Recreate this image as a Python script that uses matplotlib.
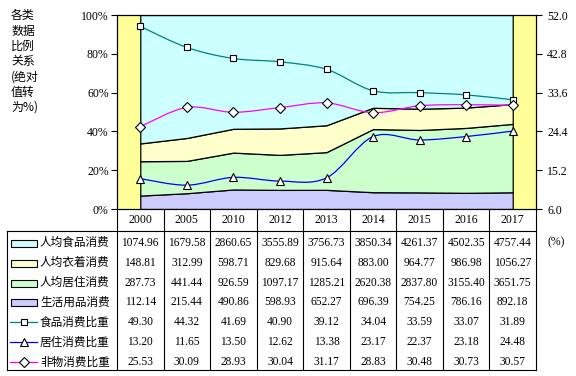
import matplotlib

matplotlib.use("Agg")
import matplotlib.pyplot as plt
import matplotlib.transforms as mtransforms
import numpy as np
from matplotlib.lines import Line2D
from matplotlib.patches import PathPatch, Rectangle
from matplotlib.path import Path

years = ["2000", "2005", "2010", "2012", "2013", "2014", "2015", "2016", "2017"]
food = [1074.96, 1679.58, 2860.65, 3555.89, 3756.73, 3850.34, 4261.37, 4502.35, 4757.44]
clothing = [148.81, 312.99, 598.71, 829.68, 915.64, 883.00, 964.77, 986.98, 1056.27]
housing = [287.73, 441.44, 926.59, 1097.17, 1285.21, 2620.38, 2837.80, 3155.40, 3651.75]
daily = [112.14, 215.44, 490.86, 598.93, 652.27, 696.39, 754.25, 786.16, 892.18]
food_ratio = [49.30, 44.32, 41.69, 40.90, 39.12, 34.04, 33.59, 33.07, 31.89]
housing_ratio = [13.20, 11.65, 13.50, 12.62, 13.38, 23.17, 22.37, 23.18, 24.48]
nonmat_ratio = [25.53, 30.09, 28.93, 30.04, 31.17, 28.83, 30.48, 30.73, 30.57]

area_names = ["人均食品消费", "人均衣着消费", "人均居住消费", "生活用品消费"]
line_names = ["食品消费比重", "居住消费比重", "非物消费比重"]
area_colors = ["#CCFFFF", "#FFFFCC", "#CCFFCC", "#CCCCFF"]
line_colors = ["#008080", "#0000FF", "#FF00FF"]
line_markers = ["s", "^", "D"]
marker_sizes = [4.5, 5.5, 5.5]

SERIF = ["Liberation Serif", "DejaVu Serif"]
CJK = ["Noto Sans CJK SC", "DejaVu Sans"]

W, H = 576, 376
fig = plt.figure(figsize=(W / 100, H / 100), dpi=100)


def fx(x):
    return x / W


def fy(y):
    return 1 - y / H


def smooth_path(xs, ys):
    pts = np.column_stack([xs, ys]).astype(float)
    n = len(pts)
    verts = [pts[0]]
    codes = [Path.MOVETO]
    for i in range(n - 1):
        p0 = pts[max(i - 1, 0)]
        p1 = pts[i]
        p2 = pts[i + 1]
        p3 = pts[min(i + 2, n - 1)]
        verts += [p1 + (p2 - p0) / 6, p2 - (p3 - p1) / 6, p2]
        codes += [Path.CURVE4] * 3
    return Path(verts, codes)


L, R, T, B = 117, 536, 15, 209
ax = fig.add_axes([fx(L), fy(B), (R - L) / W, (B - T) / H])
ax.set_facecolor("#FFFF99")
x = np.arange(len(years))

totals = np.array(food) + np.array(clothing) + np.array(housing) + np.array(daily)
stack = [np.array(s) / totals * 100 for s in (daily, housing, clothing, food)]
ax.stackplot(x, *stack, colors=area_colors[::-1], edgecolor="black", linewidth=0.9)
ax.set_xlim(-0.5, len(years) - 0.5)
ax.set_ylim(0, 100)
ax.set_xticks([])
ax.set_yticks(range(0, 101, 20))
ax.set_yticklabels([f"{v}%" for v in range(0, 101, 20)], fontfamily=SERIF, fontsize=8.5)
ax.tick_params(axis="y", direction="out", length=4, width=0.8, pad=2)
for s in ax.spines.values():
    s.set_linewidth(0.8)

ax2 = ax.twinx()
ax2.set_ylim(6, 52)
rticks = [6.0, 15.2, 24.4, 33.6, 42.8, 52.0]
ax2.set_yticks(rticks)
ax2.set_yticklabels([f"{v:.1f}" for v in rticks], fontfamily=SERIF, fontsize=8.5)
ax2.tick_params(axis="y", direction="out", length=4, width=0.8, pad=4)
for series, color, mk, ms in zip((food_ratio, housing_ratio, nonmat_ratio), line_colors, line_markers, marker_sizes):
    ax2.add_patch(PathPatch(smooth_path(x, series), fill=False, edgecolor=color, lw=0.9))
    ax2.plot(x, series, ls="none", marker=mk, ms=ms, mfc="white", mec="black", mew=0.8)

# y-axis caption
caption = ["各类", "数据", "比例", "关系", "(绝对", "值转", "为%)"]
for k, line in enumerate(caption):
    fig.text(fx(11), fy(16 + 15.2 * k), line, fontfamily=CJK, fontsize=8.6, va="center", ha="left")

# data table
trans = mtransforms.blended_transform_factory(ax.transData, fig.transFigure)
tbl_left, head_bot, tbl_bot = 7, 231, 370
for i in range(len(years) + 1):
    fig.add_artist(Line2D([i - 0.5, i - 0.5], [fy(B), fy(tbl_bot)], transform=trans, color="black", lw=0.8))
fig.add_artist(Line2D([fx(tbl_left), fx(tbl_left)], [fy(head_bot), fy(tbl_bot)], color="black", lw=0.8))
for yy in (head_bot, tbl_bot):
    fig.add_artist(Line2D([fx(tbl_left), fx(R)], [fy(yy), fy(yy)], color="black", lw=0.8))

for i, yr in enumerate(years):
    ax.text(i, fy(220), yr, transform=trans, ha="center", va="center", fontfamily=SERIF, fontsize=8.5)

rows = [food, clothing, housing, daily, food_ratio, housing_ratio, nonmat_ratio]
names = area_names + line_names
row_y = [242.6 + 19.95 * k for k in range(len(rows))]
for k, (vals, name) in enumerate(zip(rows, names)):
    yy = row_y[k]
    for i, v in enumerate(vals):
        ax.text(i, fy(yy), f"{v:.2f}", transform=trans, ha="center", va="center", fontfamily=SERIF, fontsize=8.3)
    fig.text(fx(40), fy(yy), name, fontfamily=CJK, fontsize=8.4, ha="left", va="center")
    if k < 4:
        fig.add_artist(Rectangle((fx(11), fy(yy + 4)), (37 - 11) / W, 7 / H, facecolor=area_colors[k],
                                 edgecolor="black", lw=0.8, transform=fig.transFigure))
    else:
        j = k - 4
        fig.add_artist(Line2D([fx(10), fx(37)], [fy(yy), fy(yy)], color=line_colors[j], lw=0.9))
        fig.add_artist(Line2D([fx(23.5)], [fy(yy)], ls="none", marker=line_markers[j], ms=marker_sizes[j],
                              mfc="white", mec="black", mew=0.8))

fig.text(fx(548), fy(242.6), "(%)", fontfamily=SERIF, fontsize=8.5, ha="left", va="center")

fig.savefig("out.png", dpi=100)
